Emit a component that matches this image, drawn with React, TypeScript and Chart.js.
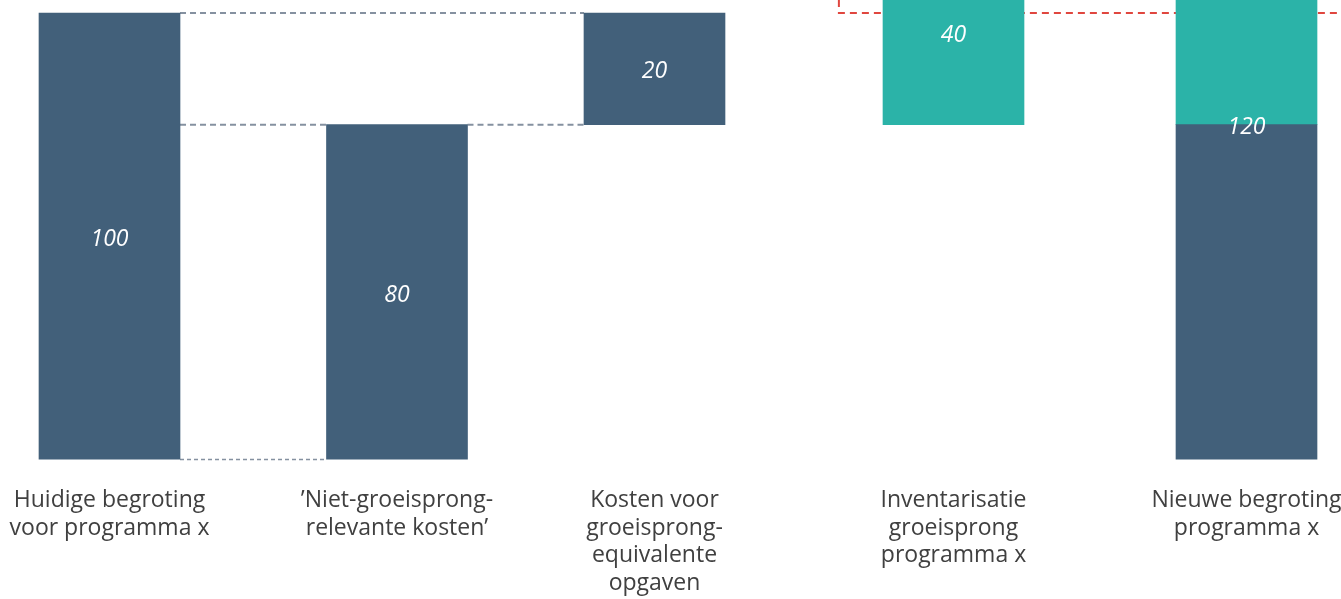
import React, { useEffect, useRef } from "react";
import { Chart, registerables } from "chart.js";

Chart.register(...registerables);

// ---- data ----
const categories: string[][] = [
  ["Huidige begroting", "voor programma x"],
  ["\u2019Niet-groeisprong-", "relevante kosten\u2019"],
  ["Kosten voor", "groeisprong-", "equivalente", "opgaven"],
  ["Inventarisatie", "groeisprong", "programma x"],
  ["Nieuwe begroting", "programma x"],
];
// slot of each category along the x axis (irregular spacing as in the original)
const categorySlots = [0, 1.0114, 1.9173, 2.9692, 4.0];

const baseLow: (number | null)[] = [0, 0, 80, null, 0];
const baseHigh: (number | null)[] = [100, 80, 100, null, 80];
const growthLow: (number | null)[] = [null, null, null, 80, 80];
const growthHigh: (number | null)[] = [null, null, null, 120, 120];
// value at which each bar label is written
const labelAnchor = [60, 50, 90, 96.5, 80];
// reference (target) level and where its dashed line begins
const targetLevel = 100;
const targetStart = 2.566;
// waterfall connectors: [fromBar, toBar, level]
const connectors: [number, number, number][] = [
  [0, 2, 100],
  [0, 1, 80],
  [1, 2, 80],
  [0, 1, 0],
];

const DARK = "#42607a";
const TEAL = "#2bb3a8";

function totals(i: number): number {
  let t = 0;
  if (baseLow[i] !== null && baseHigh[i] !== null) t += (baseHigh[i] as number) - (baseLow[i] as number);
  if (growthLow[i] !== null && growthHigh[i] !== null) t += (growthHigh[i] as number) - (growthLow[i] as number);
  return t;
}

function toPoints(lo: (number | null)[], hi: (number | null)[]) {
  const pts: any[] = [];
  lo.forEach((l, i) => {
    if (l !== null && hi[i] !== null) pts.push({ x: categorySlots[i], y: [l, hi[i]] });
  });
  return pts;
}

const decorPlugin = {
  id: "decor",
  beforeDatasetsDraw(chart: any) {
    const { ctx, scales, chartArea } = chart;
    const x = scales.x;
    const y = scales.y;
    const half = 141 / 2;
    ctx.save();
    connectors.forEach(([a, b, lvl]) => {
      const yy = Math.max(Math.min(y.getPixelForValue(Math.max(lvl, y.min)), chartArea.bottom), chartArea.top);
      const bottom = lvl <= y.min;
      ctx.strokeStyle = "#8591a0";
      ctx.lineWidth = bottom ? 1.5 : 2;
      ctx.setLineDash(bottom ? [4, 3] : [6, 4]);
      ctx.beginPath();
      ctx.moveTo(x.getPixelForValue(categorySlots[a]) + half, yy);
      ctx.lineTo(x.getPixelForValue(categorySlots[b]) - half, yy);
      ctx.stroke();
    });
    // target line
    const ty = y.getPixelForValue(targetLevel);
    const tx = x.getPixelForValue(targetStart);
    ctx.strokeStyle = "#e0463f";
    ctx.lineWidth = 2;
    ctx.setLineDash([7, 5]);
    ctx.beginPath();
    ctx.moveTo(tx, chartArea.top);
    ctx.lineTo(tx, ty);
    ctx.lineTo(chartArea.right, ty);
    ctx.stroke();
    ctx.restore();
  },
  afterDatasetsDraw(chart: any) {
    const { ctx, scales } = chart;
    const x = scales.x;
    const y = scales.y;
    ctx.save();
    ctx.fillStyle = "#ffffff";
    ctx.font = "italic 23px 'Open Sans', sans-serif";
    ctx.textAlign = "center";
    ctx.textBaseline = "middle";
    categories.forEach((_, i) => {
      ctx.fillText(String(totals(i)), x.getPixelForValue(categorySlots[i]), y.getPixelForValue(labelAnchor[i]) + 3);
    });
    ctx.restore();
  },
};

export default function App() {
  const ref = useRef<HTMLCanvasElement>(null);
  useEffect(() => {
    if (!ref.current) return;
    const chart = new Chart(ref.current, {
      type: "bar",
      data: {
        datasets: [
          {
            label: "Basis",
            data: toPoints(baseLow, baseHigh),
            backgroundColor: DARK,
            borderWidth: 0,
            grouped: false,
            barThickness: 141,
          } as any,
          {
            label: "Groeisprong",
            data: toPoints(growthLow, growthHigh),
            backgroundColor: TEAL,
            borderWidth: 0,
            grouped: false,
            barThickness: 141,
          } as any,
        ],
      },
      options: {
        animation: false,
        responsive: false,
        layout: { padding: 0 },
        plugins: {
          legend: { display: false },
          tooltip: { enabled: false },
        },
        scales: {
          x: {
            type: "linear",
            offset: false,
            min: -0.56113,
            max: 4.54,
            grid: { display: false, drawTicks: false },
            border: { display: false },
            afterBuildTicks: (scale: any) => {
              scale.ticks = categorySlots.map((v) => ({ value: v }));
            },
            ticks: {
              autoSkip: false,
              maxRotation: 0,
              minRotation: 0,
              padding: 27,
              color: "#404040",
              font: { family: "'Open Sans', sans-serif", size: 23, lineHeight: 1.2 },
              callback: (_v: any, i: number) => categories[i],
            },
          },
          y: {
            display: false,
            min: 20,
            max: 102.33,
          },
        },
      } as any,
      plugins: [decorPlugin],
    });
    return () => chart.destroy();
  }, []);
  return (
    <div style={{ position: "fixed", left: 0, top: 0, width: 1341, height: 599, overflow: "hidden", background: "#fff" }}>
      <canvas ref={ref} width={1450} height={624} style={{ display: "block", marginLeft: -50 }} />
    </div>
  );
}
